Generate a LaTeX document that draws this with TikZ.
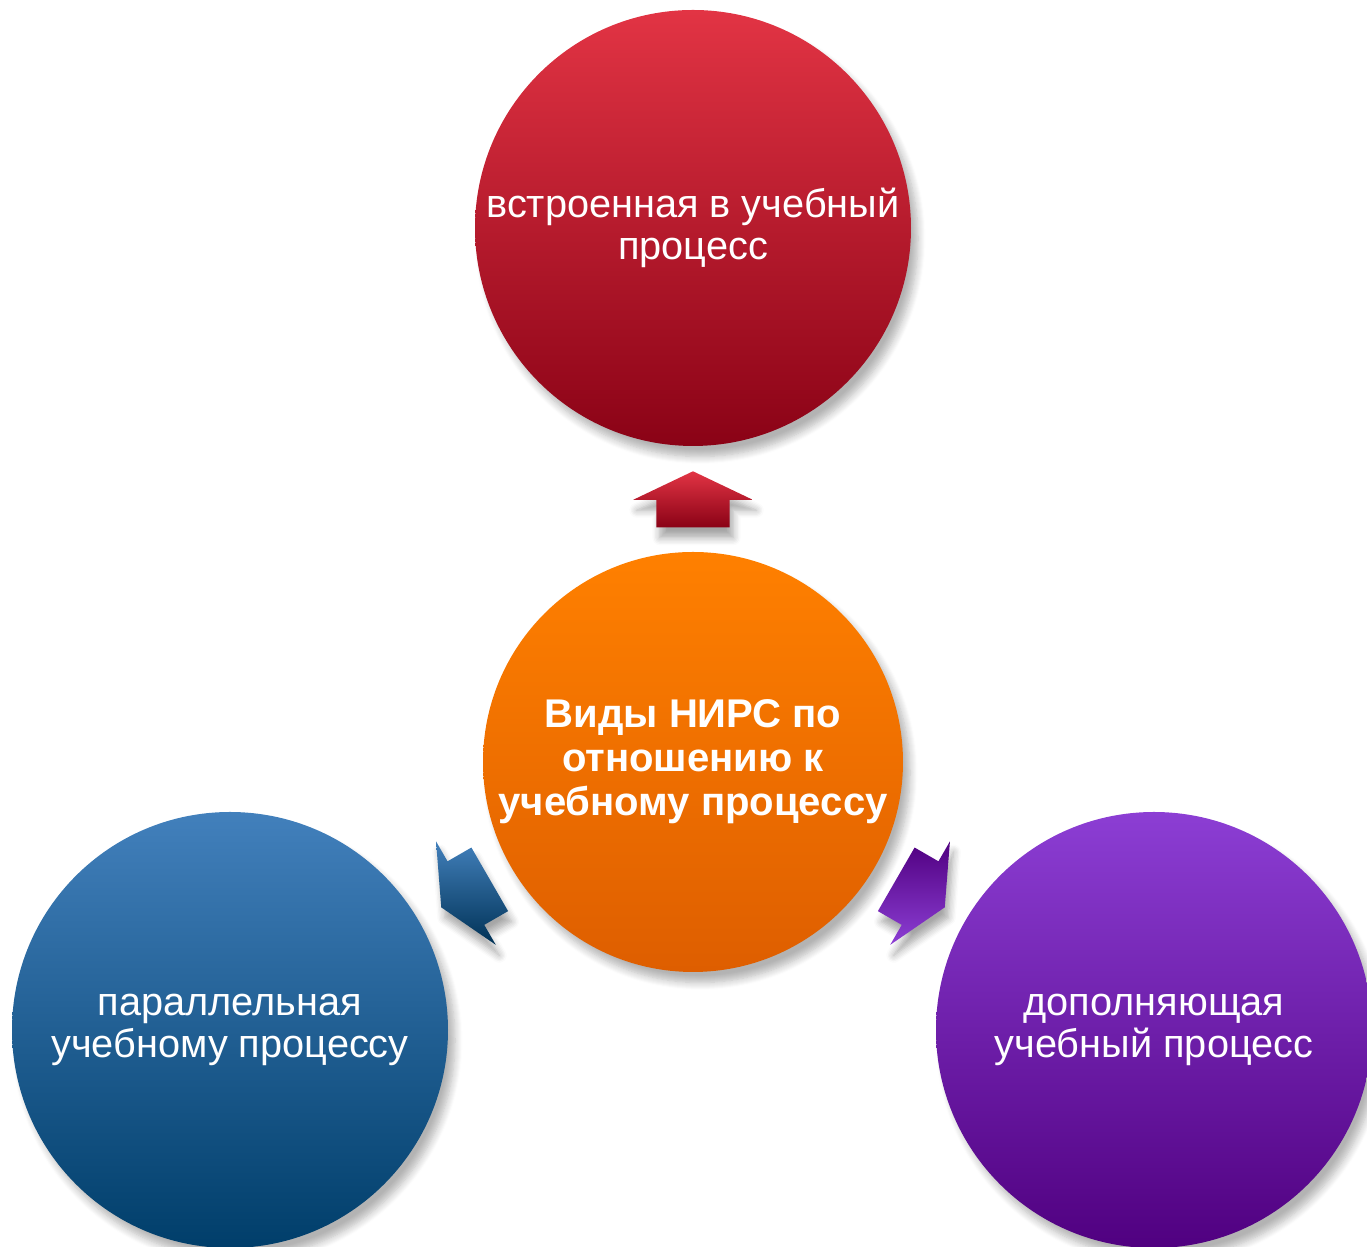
\documentclass[tikz,border=0pt]{standalone}
\usepackage{fontspec}
\setmainfont{Liberation Sans}
\usetikzlibrary{shapes.arrows,shadows.blur}

\definecolor{redtop}{RGB}{226,52,68}
\definecolor{redbot}{RGB}{138,2,22}
\definecolor{orangetop}{RGB}{255,128,0}
\definecolor{orangebot}{RGB}{222,94,0}
\definecolor{bluetop}{RGB}{66,128,188}
\definecolor{bluebot}{RGB}{0,62,106}
\definecolor{purpletop}{RGB}{140,62,212}
\definecolor{purplebot}{RGB}{80,0,128}

\tikzstyle{bubble} = [circle,minimum size=4.36cm,inner sep=0pt,text=white,align=center,
	font=\fontsize{11.3}{12}\selectfont,
	blur shadow={shadow xshift=2pt,shadow yshift=-3pt,shadow opacity=30,shadow blur steps=8}]
\tikzstyle{ray} = [single arrow,minimum width=1.18cm,minimum height=0.56cm,
	single arrow head extend=0.23cm,single arrow tip angle=129,inner xsep=0pt,inner ysep=0.36cm,
	anchor=tail,
	blur shadow={shadow xshift=1pt,shadow yshift=-3pt,shadow opacity=35,shadow blur steps=6}]

\begin{document}
\begin{tikzpicture}
	\useasboundingbox (0,0) rectangle (13.67,12.47);
	\node[bubble,minimum size=4.2cm,top color=orangetop,bottom color=orangebot,
		font=\bfseries\fontsize{11.4}{12.5}\selectfont] (n0) at (6.93,4.85)
		{Виды НИРС по\\отношению к\\учебному процессу};
	\node[bubble,top color=redtop,bottom color=redbot] (n1) at (6.93,10.19)
		{встроенная в учебный\\процесс};
	\node[bubble,top color=bluetop,bottom color=bluebot] (n2) at (2.30,2.17)
		{параллельная\\учебному процессу};
	\node[bubble,top color=purpletop,bottom color=purplebot] (n3) at (11.54,2.17)
		{дополняющая\\учебный процесс};
	\node[ray,rotate=90,top color=redtop,bottom color=redbot] (a1)
		at ([shift={(90:2.34)}]n0.center) {};
	\node[ray,rotate=210,top color=bluetop,bottom color=bluebot!80!black] (a2)
		at ([shift={(210:2.34)}]n0.center) {};
	\node[ray,rotate=330,top color=purplebot,bottom color=purpletop] (a3)
		at ([shift={(330:2.34)}]n0.center) {};
\end{tikzpicture}
\end{document}
